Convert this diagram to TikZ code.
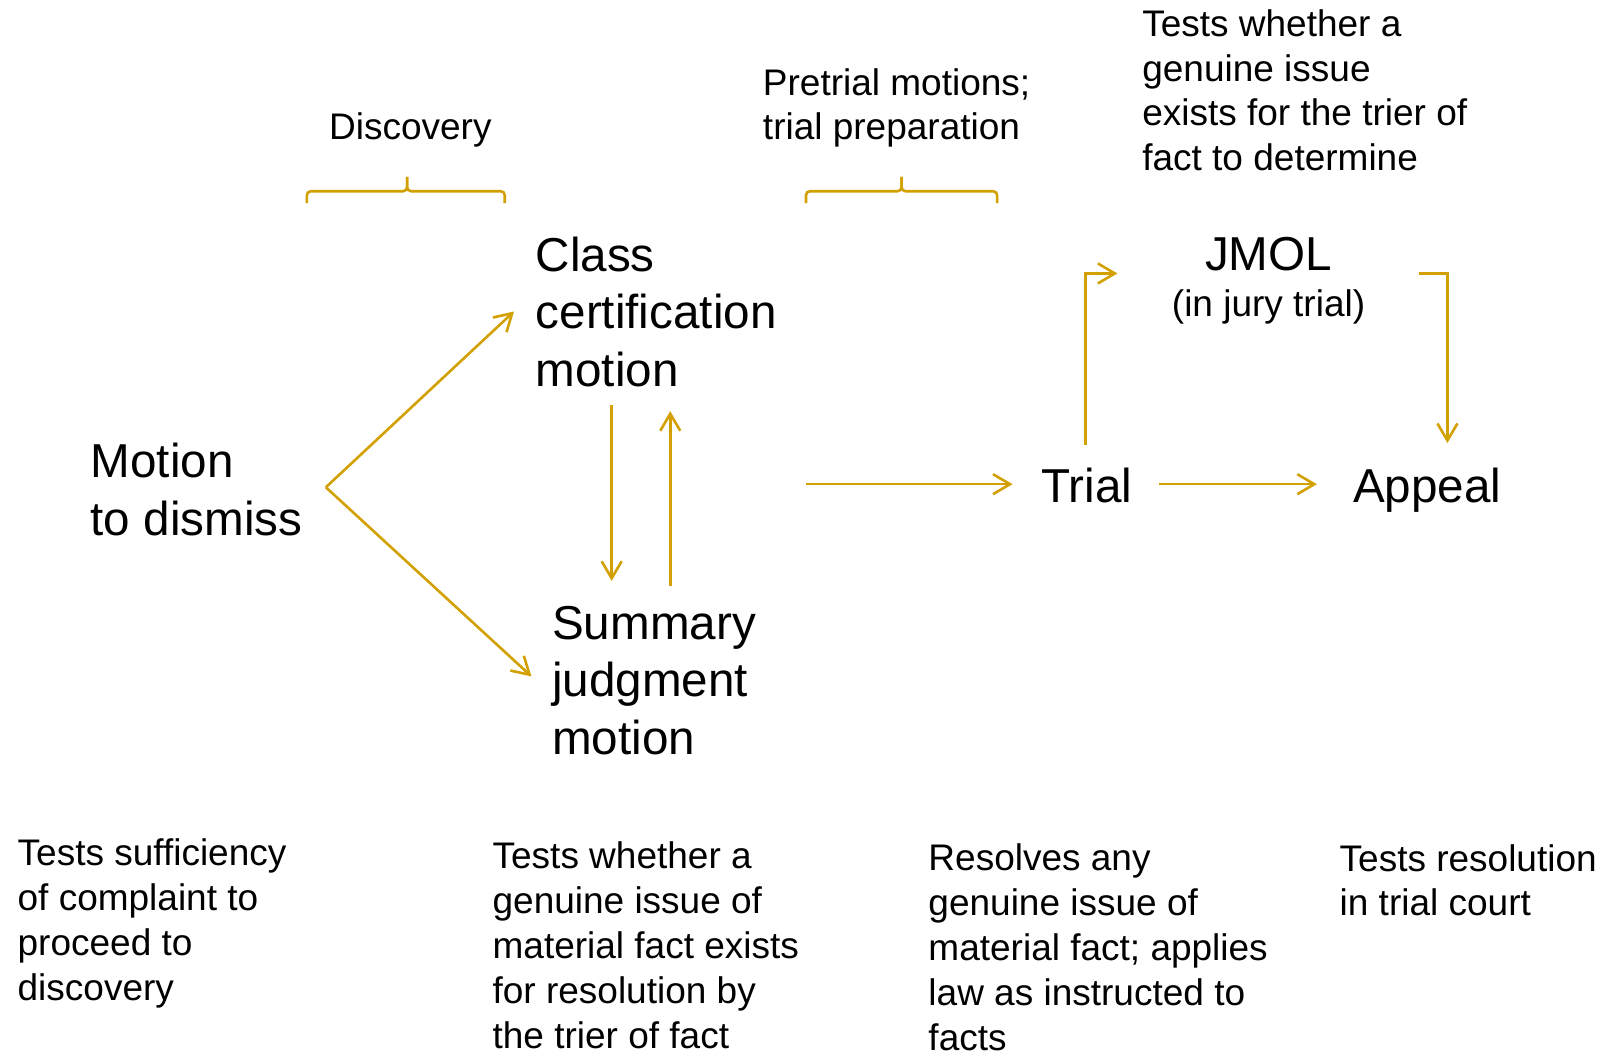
\documentclass[tikz,border=0pt]{standalone}
\usepackage{fontspec}
\setmainfont{Liberation Sans}
\usetikzlibrary{arrows.meta}
\definecolor{gold}{RGB}{210,160,0}
\begin{document}
\begin{tikzpicture}[x=1.028pt,y=-1.028pt,
  big/.style={font=\fontsize{47.6}{57.6}\selectfont, align=left, inner sep=0pt, anchor=base west},
  small/.style={font=\fontsize{37}{44.8}\selectfont, align=left, inner sep=0pt, anchor=base west},
  conn/.style={draw=gold, line width=2.6pt, -{Straight Barb[length=17pt,width=20pt]}},
  brace/.style={draw=gold, line width=2.6pt, rounded corners=4pt}]
\useasboundingbox (0,0) rectangle (1568.1,1023.3);

% main nodes (anchored at the baseline of their last line)
\node[big] (mtd) at (88,521) {Motion\\to dismiss};
\node[big] (ccm) at (521,376) {Class\\certification\\motion};
\node[big] (sjm) at (537,734) {Summary\\judgment\\motion};
\node[big] (trial) at (1013,489) {Trial};
\node[big] (appeal) at (1316,489) {Appeal};
\node[big, anchor=base, align=center] (jmol) at (1234,263) {JMOL};
\node[small, anchor=base, align=center] (jury) at (1234,308) {(in jury trial)};

% stage labels
\node[small] (disc) at (320,136) {Discovery};
\node[small] (pre) at (742,136) {Pretrial motions;\\trial preparation};
\node[small] (jmoltest) at (1111,166) {Tests whether a\\genuine issue\\exists for the trier of\\fact to determine};

% descriptions
\node[small] (d1) at (17,973) {Tests sufficiency\\of complaint to\\proceed to\\discovery};
\node[small] (d2) at (479,1019.5) {Tests whether a\\genuine issue of\\material fact exists\\for resolution by\\the trier of fact};
\node[small] (d3) at (903,1021.5) {Resolves any\\genuine issue of\\material fact; applies\\law as instructed to\\facts};
\node[small] (d4) at (1303,891) {Tests resolution\\in trial court};

% braces
\draw[brace] (298.5,197.5) -- (298.5,186) -- (396,186) -- (396,172);
\draw[brace] (396,172) -- (396,186) -- (491,186) -- (491,197.5);
\draw[brace] (784,197.5) -- (784,186) -- (877,186) -- (877,172);
\draw[brace] (877,172) -- (877,186) -- (970,186) -- (970,197.5);

% connector coordinates
\coordinate (apex) at (317,474);
\coordinate (ccmIn) at (500,303);
\coordinate (sjmIn) at (517,658);
\coordinate (ccmOut) at (595,394);
\coordinate (sjmIn2) at (595,565);
\coordinate (sjmOut) at (652,570);
\coordinate (ccmIn2) at (652,400);
\coordinate (preOut) at (784,471);
\coordinate (trialIn) at (985,471);
\coordinate (trialOut) at (1127,471);
\coordinate (appealIn) at (1281,471);
\coordinate (trialUp) at (1056,433);
\coordinate (jmolIn) at (1087,266);
\coordinate (jmolOut) at (1380,266);
\coordinate (appealTop) at (1408,431);

\draw[conn] (apex) -- (ccmIn);
\draw[conn] (apex) -- (sjmIn);
\draw[conn] (ccmOut) -- (sjmIn2);
\draw[conn] (sjmOut) -- (ccmIn2);
\draw[conn] (preOut) -- (trialIn);
\draw[conn] (trialOut) -- (appealIn);
\draw[conn] (trialUp) |- (jmolIn);
\draw[conn] (jmolOut) -| (appealTop);
\end{tikzpicture}
\end{document}
